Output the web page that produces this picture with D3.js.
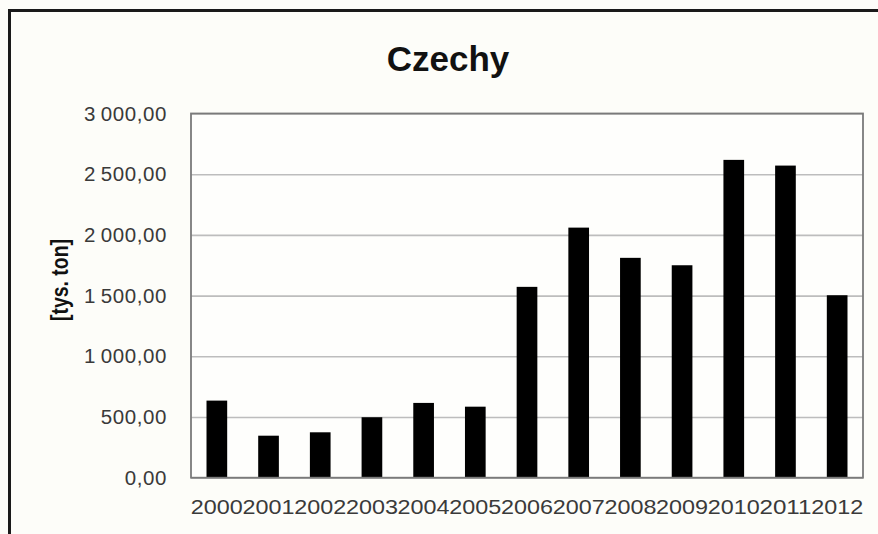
<!DOCTYPE html>
<html>
<head>
<meta charset="utf-8">
<script src="https://cdn.jsdelivr.net/npm/d3@7"></script>
<style>
  html, body { margin: 0; padding: 0; background: #fdfdf9; }
  svg { display: block; }
</style>
</head>
<body>
<svg id="chart" width="878" height="534"></svg>
<script>
const title = "Czechy";
const yAxisLabel = "[tys. ton]";
const years = ["2000","2001","2002","2003","2004","2005","2006","2007","2008","2009","2010","2011","2012"];
const values = [635, 346, 374, 498, 616, 585, 1572, 2060, 1811, 1750, 2618, 2571, 1503];
const yTicks = [0, 500, 1000, 1500, 2000, 2500, 3000];

const svg = d3.select("#chart");
const W = 878, H = 534;
const plot = { left: 191, right: 863, top: 113.5, bottom: 477.7 };

svg.append("rect").attr("width", W).attr("height", H).attr("fill", "#fdfdf9");
// outer frame (extends beyond right/bottom of the picture)
svg.append("rect")
  .attr("x", 9.5).attr("y", 10.5).attr("width", 900).attr("height", 560)
  .attr("fill", "#fdfdf9").attr("stroke", "#1a1a1a").attr("stroke-width", 3);

const x = d3.scaleBand().domain(years).range([plot.left, plot.right])
  .paddingInner(0.6).paddingOuter(0.3);
const y = d3.scaleLinear().domain([0, 3000]).range([plot.bottom, plot.top]);

const locale = d3.formatLocale({ decimal: ",", thousands: "\u2009", grouping: [3], currency: ["", ""] });
const fmt = locale.format(",.2f");

// plot background
svg.append("rect")
  .attr("x", plot.left).attr("y", plot.top)
  .attr("width", plot.right - plot.left).attr("height", plot.bottom - plot.top)
  .attr("fill", "#fefefc");

// gridlines + y tick labels
const yAxis = d3.axisLeft(y).tickValues(yTicks).tickSize(-(plot.right - plot.left)).tickFormat(fmt).tickPadding(24);
const gy = svg.append("g").attr("transform", `translate(${plot.left},0)`).call(yAxis);
gy.select(".domain").remove();
gy.selectAll(".tick line").attr("stroke", "#bdbdbd").attr("stroke-width", 1.6);
gy.selectAll(".tick text")
  .attr("fill", "#3a3a3a")
  .style("font-family", "'Liberation Sans', Arial, sans-serif")
  .style("font-size", "20.5px")
  .style("letter-spacing", "0.6px");

// bars
svg.append("g").selectAll("rect").data(values).join("rect")
  .attr("x", (d, i) => x(years[i]))
  .attr("y", d => y(d))
  .attr("width", x.bandwidth())
  .attr("height", d => y(0) - y(d))
  .attr("fill", "#000");

// plot border
svg.append("rect")
  .attr("x", plot.left).attr("y", plot.top)
  .attr("width", plot.right - plot.left).attr("height", plot.bottom - plot.top)
  .attr("fill", "none").attr("stroke", "#7a7a7a").attr("stroke-width", 1.8);

// x axis labels
const xAxis = d3.axisBottom(x).tickSize(0).tickPadding(22);
const gx = svg.append("g").attr("transform", `translate(0,${plot.bottom})`).call(xAxis);
gx.select(".domain").remove();
gx.selectAll(".tick text")
  .attr("fill", "#3a3a3a")
  .style("font-family", "'Liberation Sans', Arial, sans-serif")
  .style("font-size", "20.5px")
  .attr("textLength", 52)
  .attr("lengthAdjust", "spacingAndGlyphs");

// title
svg.append("text")
  .attr("x", 448).attr("y", 71)
  .attr("text-anchor", "middle")
  .attr("fill", "#111")
  .style("font-family", "'Liberation Sans', Arial, sans-serif")
  .style("font-weight", "bold")
  .style("font-size", "35px")
  .text(title);

// y axis title
svg.append("text")
  .attr("transform", "translate(68,280) rotate(-90)")
  .attr("text-anchor", "middle")
  .attr("fill", "#111")
  .style("font-family", "'Liberation Sans', Arial, sans-serif")
  .style("font-weight", "bold")
  .style("font-size", "23px")
  .attr("textLength", 82)
  .attr("lengthAdjust", "spacingAndGlyphs")
  .text(yAxisLabel);
</script>
</body>
</html>
